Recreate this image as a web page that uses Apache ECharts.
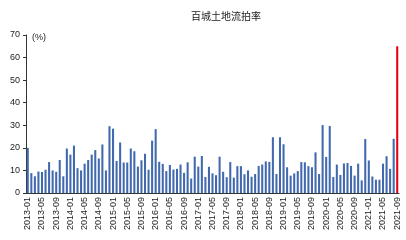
<!DOCTYPE html>
<html><head><meta charset="utf-8">
<script src="https://cdn.jsdelivr.net/npm/echarts@6/dist/echarts.min.js"></script>
<style>html,body{margin:0;padding:0;background:#fff}#c{width:406px;height:240px}</style>
</head><body><div id="c"></div>
<script>
const titleText = "百城土地流拍率";
const unitLabel = "(%)";
const startYear = 2013, startMonth = 1, monthCount = 105;
const categories = [];
for (let i = 0; i < monthCount; i++) {
  const y = startYear + Math.floor((startMonth - 1 + i) / 12);
  const m = (startMonth - 1 + i) % 12 + 1;
  categories.push(y + "-" + (m < 10 ? "0" + m : m));
}
const rates = [
  20.0, 8.8, 7.4, 9.5, 9.3, 10.3, 13.7, 10.0, 9.4, 14.6, 7.4, 19.7,
  17.0, 21.0, 11.0, 10.0, 13.0, 14.6, 17.0, 19.0, 15.3, 21.5, 10.0, 29.6,
  28.5, 14.2, 22.4, 13.5, 13.5, 19.7, 18.5, 11.7, 14.5, 17.4, 10.3, 23.2,
  28.3, 13.8, 12.9, 9.7, 12.4, 10.4, 10.7, 12.6, 8.9, 13.6, 6.4, 16.1,
  11.7, 16.4, 7.1, 11.6, 8.7, 7.9, 16.1, 9.4, 7.0, 13.7, 6.8, 11.9,
  11.9, 8.3, 10.0, 7.2, 8.4, 12.0, 12.6, 14.0, 13.8, 24.7, 8.4, 24.7,
  21.6, 11.4, 7.7, 8.7, 9.7, 13.7, 13.6, 11.9, 11.4, 18.0, 8.4, 30.1,
  16.0, 29.7, 7.1, 12.6, 8.0, 13.1, 13.3, 12.0, 7.7, 13.0, 5.6, 23.9,
  14.4, 7.3, 5.9, 5.9, 13.0, 16.3, 10.7, 24.0, 65.0
];
const highlightIndex = rates.length - 1;
const yTicks = [0, 10, 20, 30, 40, 50, 60, 70];

const chart = echarts.init(document.getElementById('c'), null, {renderer: 'canvas'});
chart.setOption({
  animation: false,
  title: {
    text: titleText, left: 221, top: 6, textAlign: 'center',
    textStyle: {fontFamily: 'Noto Sans CJK SC', fontSize: 10, fontWeight: 'normal', color: '#222'}
  },
  grid: {left: 26, right: 7, top: 35, bottom: 47},
  xAxis: {
    type: 'category', data: categories,
    axisLine: {lineStyle: {color: '#333', width: 1}},
    axisTick: {interval: 3, alignWithLabel: true, length: 3, lineStyle: {color: '#333'}},
    axisLabel: {interval: 3, rotate: 90, fontSize: 9, color: '#222', fontFamily: 'Liberation Sans', margin: 4}
  },
  yAxis: {
    type: 'value', min: yTicks[0], max: yTicks[yTicks.length - 1], interval: 10,
    name: unitLabel, nameLocation: 'end', nameGap: -3,
    nameTextStyle: {align: 'left', verticalAlign: 'middle', fontSize: 9, color: '#222', fontFamily: 'Liberation Sans', padding: [0, 0, 0, 6]},
    axisLine: {show: true, lineStyle: {color: '#333', width: 1}},
    axisTick: {show: true, length: 3, lineStyle: {color: '#333'}},
    splitLine: {show: false},
    axisLabel: {fontSize: 9, color: '#222', fontFamily: 'Liberation Sans', margin: 6}
  },
  series: [{
    type: 'bar', barWidth: '58%',
    data: rates.map((v, i) => i === highlightIndex ? {value: v, itemStyle: {color: '#E3000F'}} : v),
    itemStyle: {color: '#4169AE'}
  }]
});
</script></body></html>
